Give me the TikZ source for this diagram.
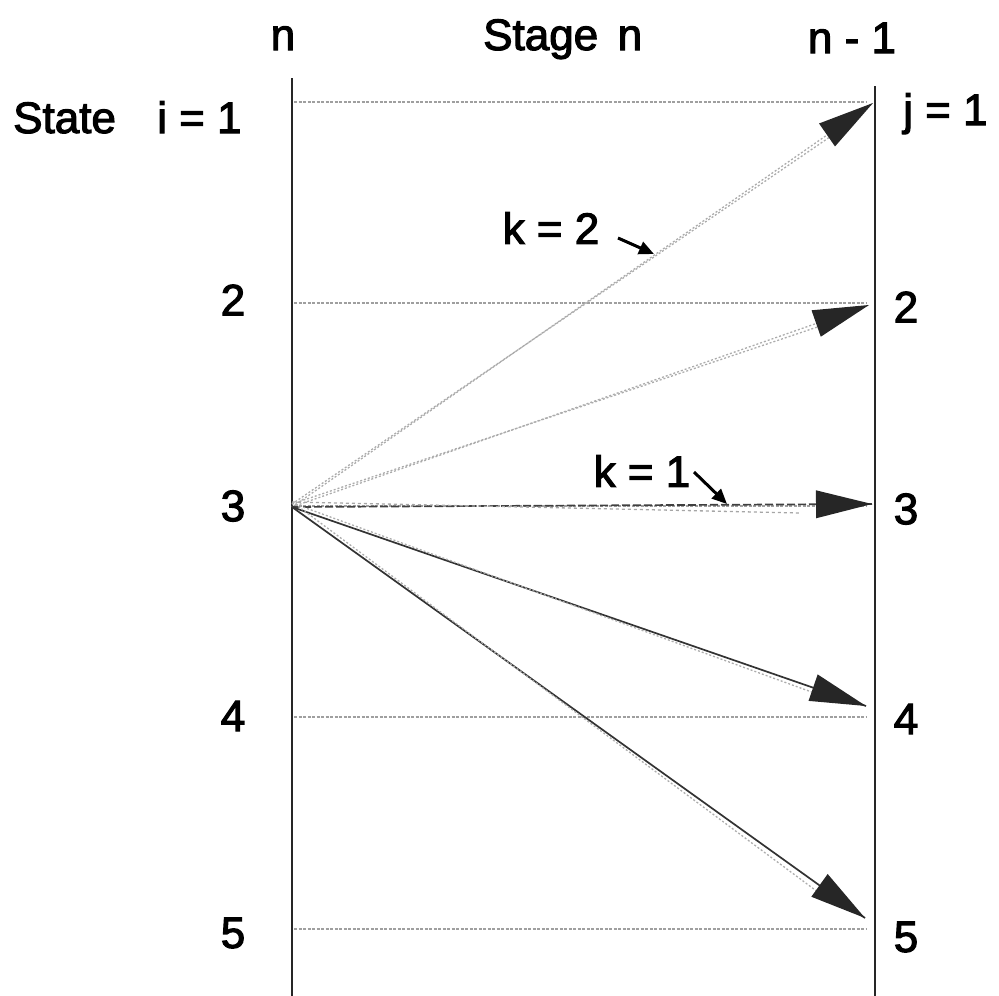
\documentclass[tikz,border=0pt]{standalone}
\usepackage{fontspec}
\setmainfont{Liberation Sans}
\newfontfamily\lblfont{Liberation Sans}[FakeBold=2.5]
\usetikzlibrary{arrows.meta,calc}
\begin{document}
\begin{tikzpicture}[x=1pt,y=-1pt,
  lbl/.style={font=\lblfont\fontsize{44}{48}\selectfont, inner sep=0pt},
  stateline/.style={line width=1.3pt, gray!75, dash pattern=on 3pt off 1.5pt},
  vline/.style={line width=1.8pt, black!85},
  lightarr/.style={line width=1.3pt, gray!65, dash pattern=on 2pt off 2pt},
  darkarr/.style={line width=1.7pt, black!80},
  headfill/.style={fill=black!85},
  smallarr/.style={line width=3pt, -{Triangle[length=15pt,width=13pt]}}]
\useasboundingbox (0,0) rectangle (999,996);
% vertical stage lines
\coordinate (LT) at (292,78);
\coordinate (LB) at (292,996);
\coordinate (RT) at (875,86);
\coordinate (RB) at (875,996);
\draw[vline] (LT) -- (LB);
\draw[vline] (RT) -- (RB);
% state lines
\foreach \i/\y in {1/102,2/303,3/506,4/717,5/929}{
  \coordinate (L\i) at (294,\y);
  \coordinate (E\i) at (866,\y);
  \draw[stateline] (L\i) -- (E\i);
}
% start and arrow tips
\coordinate (S) at (292,507);
\coordinate (T1) at (873,103);
\coordinate (T2) at (869,305);
\coordinate (T3) at (872,504);
\coordinate (T4) at (866,706);
\coordinate (T5) at (865,918);
% arrows to states 1 and 2 (light dotted)
\draw[lightarr] (S) -- (T1);
\draw[lightarr] ([yshift=3pt]S) -- ($(T1)!50pt!(S)+(0,4)$);
\draw[lightarr] (S) -- (T2);
\draw[lightarr] ([yshift=3pt]S) -- ($(T2)!50pt!(S)+(0,4)$);
% arrow to state 3 (dashed, doubled)
\draw[line width=1.7pt, black!75, dash pattern=on 8pt off 3pt] (S) -- (T3);
\draw[line width=1.3pt, gray!70, dash pattern=on 3pt off 3pt] ([yshift=5pt]S) -- (800,513);
% arrows to states 4 and 5 (solid + dotted)
\draw[darkarr] (S) -- (T4);
\draw[lightarr] ([yshift=4pt]S) -- ($(T4)!50pt!(S)+(0,5)$);
\draw[darkarr] (S) -- (T5);
\draw[lightarr] ([xshift=3pt,yshift=3pt]S) -- ($(T5)!50pt!(S)+(-4,5)$);
% arrowheads
\foreach \t in {T1,T2,T3,T4,T5}{
  \coordinate (B) at ($(\t)!56pt!(S)$);
  \fill[headfill] (\t) -- ($(B)!14pt!90:(\t)$) -- ($(B)!14pt!-90:(\t)$) -- cycle;
}
% labels
\node[lbl, anchor=base] (hn) at (283,50) {n};
\node[lbl, anchor=base west] (hs) at (483,50) {Stage\, n};
\node[lbl, anchor=base] (hm) at (852,53) {n - 1};
\node[lbl, anchor=base west] (st) at (13,133) {State};
\node[lbl, anchor=base west] (ieq) at (157,133) {i = 1};
\node[lbl] (l2) at (233,300) {2};
\node[lbl] (l3) at (233,506) {3};
\node[lbl] (l4) at (233,716) {4};
\node[lbl] (l5) at (233,933) {5};
\node[lbl, anchor=base west] (r1) at (903,125) {j = 1};
\node[lbl] (r2) at (906,307) {2};
\node[lbl] (r3) at (906,509) {3};
\node[lbl] (r4) at (906,719) {4};
\node[lbl] (r5) at (906,937) {5};
\node[lbl] (k2) at (551,228) {k = 2};
\node[lbl] (k1) at (642,471) {k = 1};
\coordinate (k2s) at (618,238);
\coordinate (k2t) at (654,254);
\coordinate (k1s) at (694,472);
\coordinate (k1t) at (727,504);
\draw[smallarr] (k2s) -- (k2t);
\draw[smallarr] (k1s) -- (k1t);
\end{tikzpicture}
\end{document}
